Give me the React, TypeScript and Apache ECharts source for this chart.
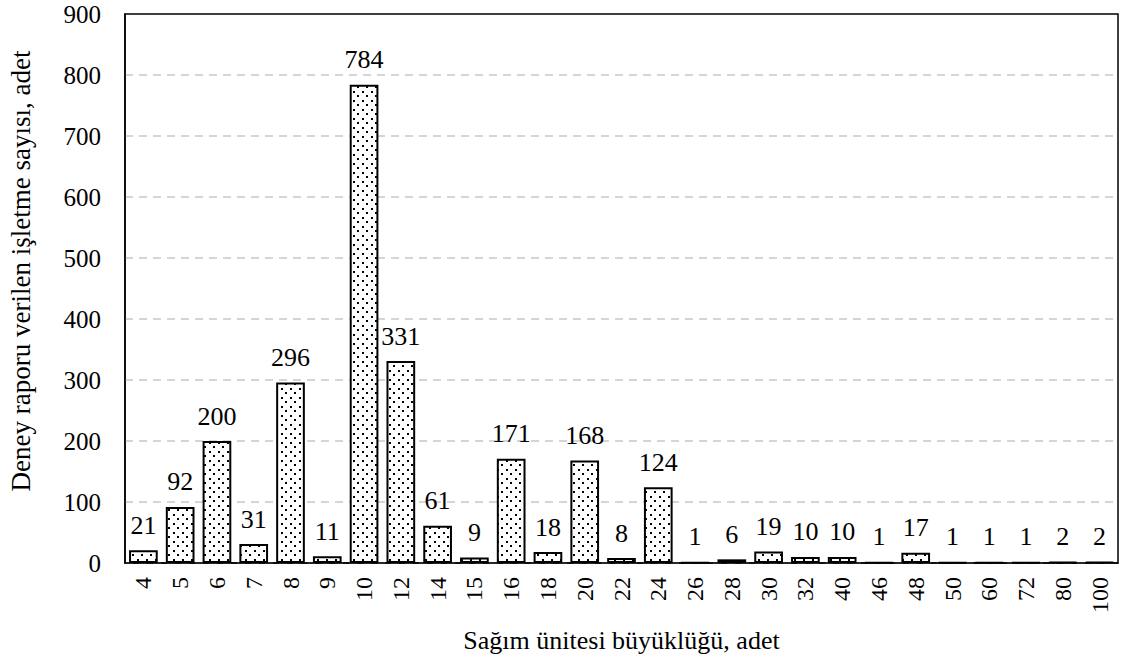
import React, { useEffect, useRef } from "react";
import * as echarts from "echarts";

const categories = ["4","5","6","7","8","9","10","12","14","15","16","18","20","22","24","26","28","30","32","40","46","48","50","60","72","80","100"];
const counts = [21,92,200,31,296,11,784,331,61,9,171,18,168,8,124,1,6,19,10,10,1,17,1,1,1,2,2];
const yTicks = [0,100,200,300,400,500,600,700,800,900];
const xTitle = "Sağım ünitesi büyüklüğü, adet";
const yTitle = "Deney raporu verilen işletme sayısı, adet";

function makePattern(): string {
  const c = document.createElement("canvas");
  c.width = 9;
  c.height = 9;
  const ctx = c.getContext("2d")!;
  ctx.fillStyle = "#ffffff";
  ctx.fillRect(0, 0, 9, 9);
  ctx.fillStyle = "#000000";
  ctx.fillRect(2, 1, 2, 2);
  ctx.fillRect(6, 5, 2, 2);
  return c.toDataURL();
}

export default function App() {
  const ref = useRef<HTMLDivElement>(null);
  useEffect(() => {
    if (!ref.current) return;
    const chart = echarts.init(ref.current, undefined, { renderer: "svg" });
    const font = "'Times New Roman', 'Liberation Serif', serif";
    const pattern = makePattern();
    chart.setOption({
      animation: false,
      textStyle: { fontFamily: font },
      grid: {
        left: 125, right: 13, top: 14, bottom: 101,
        show: true, borderColor: "#000", borderWidth: 1.5, backgroundColor: "transparent",
      },
      graphic: [{
        type: "text",
        x: 21,
        y: 271,
        rotation: Math.PI / 2,
        style: {
          text: yTitle,
          font: `27px ${font}`,
          fill: "#000",
          align: "center",
          verticalAlign: "middle",
        },
      }],
      xAxis: {
        type: "category",
        data: categories,
        name: xTitle,
        nameLocation: "middle",
        nameGap: 64,
        nameTextStyle: { fontFamily: font, fontSize: 26, color: "#000" },
        axisLine: { lineStyle: { color: "#000", width: 1.5 } },
        axisTick: { show: false },
        axisLabel: { rotate: 90, fontFamily: font, fontSize: 24, color: "#000", margin: 14 },
      },
      yAxis: {
        type: "value",
        min: yTicks[0],
        max: yTicks[yTicks.length - 1],
        interval: 100,
        axisLine: { show: true, lineStyle: { color: "#000", width: 1.5 } },
        axisTick: { show: false },
        axisLabel: { fontFamily: font, fontSize: 25, color: "#000", margin: 24 },
        splitLine: { showMaxLine: false, lineStyle: { color: "#c8c8c8", type: [8, 6], width: 1.5 } },
      },
      series: [{
        type: "bar",
        data: counts,
        barCategoryGap: "22%",
        itemStyle: {
          color: { image: pattern, repeat: "repeat" } as any,
          borderColor: "#000",
          borderWidth: 2,
        },
        label: {
          show: true, position: "top", distance: 12,
          fontFamily: font, fontSize: 26, color: "#000",
        },
      }],
    });
    return () => chart.dispose();
  }, []);
  return <div ref={ref} style={{ width: 1131, height: 664, position: "absolute", left: 0, top: 0 }} />;
}
